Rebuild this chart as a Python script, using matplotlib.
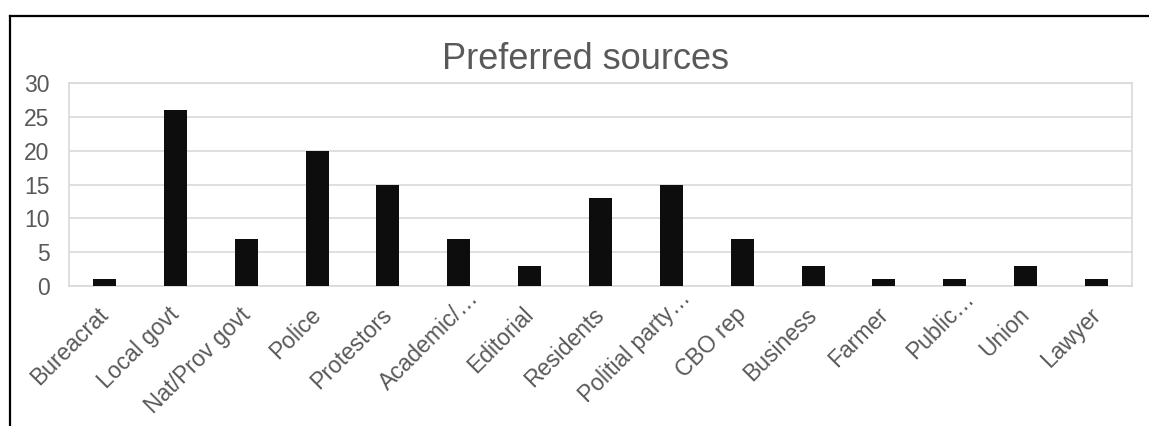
import matplotlib
matplotlib.use("Agg")
import matplotlib.pyplot as plt
import matplotlib.transforms as mtransforms
from matplotlib.lines import Line2D

# 数据
categories = ["Bureacrat", "Local govt", "Nat/Prov govt", "Police", "Protestors",
              "Academic/\u2026", "Editorial", "Residents", "Politial party\u2026",
              "CBO rep", "Business", "Farmer", "Public\u2026", "Union", "Lawyer"]
counts = [1, 26, 7, 20, 15, 7, 3, 13, 15, 7, 3, 1, 1, 3, 1]
y_ticks = [0, 5, 10, 15, 20, 25, 30]

plt.rcParams['font.family'] = ['Liberation Sans', 'DejaVu Sans']
text_color = '#595959'
grid_color = '#d9d9d9'
label_size = 16.5

fig = plt.figure(figsize=(11.49, 4.26), dpi=100)
ax = fig.add_axes([0.0601, 0.3286, 0.9251, 0.4759])

x = list(range(len(categories)))
ax.bar(x, counts, width=0.325, color='#0d0d0d', zorder=3)

ax.set_xlim(-0.5, len(categories) - 0.5)
ax.set_ylim(0, 30)
ax.set_yticks(y_ticks)
ax.set_xticks(x)
ax.set_xticklabels([])

ax.yaxis.grid(True, color=grid_color, linewidth=1.2, zorder=0)
ax.tick_params(axis='both', length=0, labelsize=label_size, labelcolor=text_color)
ax.tick_params(axis='y', pad=14)
for s in ax.spines.values():
    s.set_color(grid_color)
    s.set_linewidth(1.2)

# 类别标签，旋转45度，截断的标签（带省略号）位置稍有不同
base = ax.get_xaxis_transform()
for i, name in enumerate(categories):
    if name.endswith("\u2026"):
        dx, dy = 14.8 / 72, -9.6 / 72
    else:
        dx, dy = 3.6 / 72, -21.5 / 72
    tr = base + mtransforms.ScaledTranslation(dx, dy, fig.dpi_scale_trans)
    ax.text(i, 0, name, transform=tr, rotation=45, rotation_mode='anchor',
            ha='right', va='baseline', fontsize=label_size, color=text_color)

fig.text(586 / 1149, 1 - 69 / 426, "Preferred sources", fontsize=26,
         color=text_color, ha='center', va='baseline')

# 外框（上边和左边）
fig.add_artist(Line2D([10 / 1149, 1], [1 - 16 / 426, 1 - 16 / 426],
                      color='black', linewidth=1.6, transform=fig.transFigure))
fig.add_artist(Line2D([10 / 1149, 10 / 1149], [0, 1 - 16 / 426],
                      color='black', linewidth=1.6, transform=fig.transFigure))

fig.savefig("out.png", dpi=100)
